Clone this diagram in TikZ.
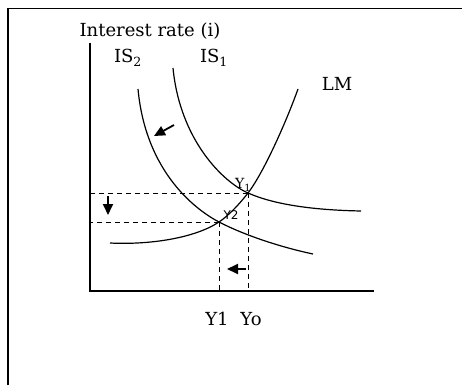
\documentclass[tikz,border=0pt]{standalone}
\usepackage{fontspec}
\setmainfont{DejaVu Serif}
\setsansfont{DejaVu Sans}
\usetikzlibrary{arrows.meta}

\begin{document}
\begin{tikzpicture}[
    x=1pt, y=-1pt,
    lbl/.style={font=\fontsize{18}{20}\selectfont, inner sep=0pt},
    pt/.style={font=\sffamily\fontsize{12}{13}\selectfont, inner sep=0pt},
    axis/.style={line width=2.4pt},
    curve/.style={line width=1.2pt},
    guide/.style={line width=0.9pt, dash pattern=on 5pt off 4pt},
    moveline/.style={-{Triangle[length=11pt,width=10pt]}, line width=1.8pt}
]
\useasboundingbox (0,0) rectangle (462,385);

% frame
\draw[line width=1.6pt] (8,385) -- (8,8.5) -- (462,8.5);

% axes
\coordinate (top) at (90,43);
\coordinate (O) at (90,291);
\coordinate (right) at (374,291);
\draw[axis] (top) -- (O) -- (right);
\node[lbl] (ylabel) at (150,31) {Interest rate (i)};

% equilibria
\coordinate (E1) at (248,193);
\coordinate (E2) at (219,222);

% IS and LM curves
\draw[curve] (173,68) .. controls (180,140) and (223,182) .. (E1)
    .. controls (273,204) and (310,210) .. (361,211);
\draw[curve] (138,89) .. controls (146,175) and (199,211.6) .. (E2)
    .. controls (244,235) and (280,247) .. (313,254);
\draw[curve] (110,243) .. controls (150,245) and (195,238) .. (E2)
    .. controls (229,215.3) and (240,203.4) .. (E1)
    .. controls (263,173.5) and (285,125) .. (298,89);

\node[lbl] (is2) at (128,58) {IS\textsubscript{2}};
\node[lbl] (is1) at (214,58) {IS\textsubscript{1}};
\node[lbl] (lm) at (337,84) {LM};
\node[inner sep=0pt, font=\fontsize{14}{15}\selectfont] (e1) at (243,185) {Y\textsubscript{1}};
\node[pt] (e2) at (231,215) {Y2};

% guide lines
\draw[guide] (E1) -- (E1 -| O);
\draw[guide] (E2) -- (E2 -| O);
\draw[guide] (E1) -- (E1 |- O);
\draw[guide] (E2) -- (E2 |- O);

\node[lbl] (y1) at (217,319) {Y1};
\node[lbl] (y0) at (251,319) {Yo};

% shifts
\coordinate (a1) at (174,125);
\coordinate (a2) at (154,136);
\coordinate (b1) at (108,196);
\coordinate (b2) at (108,215);
\coordinate (c1) at (246,269);
\coordinate (c2) at (227,269);
\draw[moveline] (a1) -- (a2);
\draw[moveline] (b1) -- (b2);
\draw[moveline] (c1) -- (c2);
\end{tikzpicture}
\end{document}
